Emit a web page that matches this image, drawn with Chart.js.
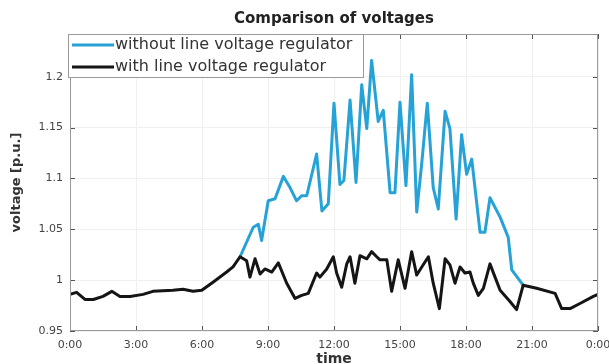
<!DOCTYPE html>
<html>
<head>
<meta charset="utf-8">
<script src="https://cdn.jsdelivr.net/npm/chart.js@4.4.1/dist/chart.umd.min.js"></script>
<style>
  html, body { margin: 0; padding: 0; background: #fff; }
  #wrap { width: 609px; height: 364px; }
</style>
</head>
<body>
<div id="wrap"><canvas id="chart" width="609" height="364"></canvas></div>
<script>
// time of day in hours, voltage in p.u.
const blackHours = [0, 0.30, 0.68, 1.06, 1.50, 1.90, 2.27, 2.73, 3.32, 3.77,
  4.68, 5.14, 5.59, 5.99, 6.50, 7.12, 7.41, 7.73, 8.03, 8.18,
  8.41, 8.64, 8.86, 9.17, 9.47, 9.85, 10.23, 10.53, 10.83, 11.21,
  11.36, 11.67, 11.97, 12.12, 12.35, 12.58, 12.73, 12.95, 13.18, 13.49,
  13.71, 13.94, 14.09, 14.40, 14.62, 14.92, 15.23, 15.53, 15.76, 15.99,
  16.29, 16.51, 16.79, 17.05, 17.27, 17.50, 17.73, 17.95, 18.18, 18.33,
  18.56, 18.79, 19.09, 19.32, 19.55, 20.00, 20.30, 20.60, 21.21, 22.05,
  22.35, 22.73, 23.18, 23.79, 24.0];
const blackVolts = [0.986, 0.988, 0.981, 0.981, 0.984, 0.989, 0.984, 0.984, 0.986, 0.989,
  0.990, 0.991, 0.989, 0.990, 0.998, 1.008, 1.013, 1.023, 1.019, 1.003,
  1.021, 1.006, 1.011, 1.008, 1.017, 0.997, 0.982, 0.985, 0.987, 1.007,
  1.003, 1.011, 1.023, 1.007, 0.993, 1.016, 1.023, 0.997, 1.024, 1.021,
  1.028, 1.023, 1.020, 1.020, 0.989, 1.020, 0.992, 1.028, 1.005, 1.013,
  1.023, 0.997, 0.972, 1.021, 1.015, 0.997, 1.013, 1.007, 1.008, 0.997,
  0.985, 0.992, 1.016, 1.003, 0.990, 0.979, 0.971, 0.995, 0.992, 0.987,
  0.972, 0.972, 0.977, 0.984, 0.986];

const blueHours = [7.73, 8.33, 8.56, 8.71, 9.01, 9.32, 9.70, 10.00, 10.30, 10.53,
  10.76, 11.21, 11.45, 11.74, 12.00, 12.27, 12.45, 12.73, 13.00, 13.26,
  13.49, 13.71, 14.01, 14.24, 14.55, 14.77, 15.00, 15.27, 15.53, 15.76,
  15.99, 16.24, 16.51, 16.74, 17.05, 17.27, 17.55, 17.80, 18.03, 18.26,
  18.64, 18.86, 19.09, 19.55, 19.92, 20.08, 20.53, 20.60];
const blueVolts = [1.023, 1.052, 1.055, 1.039, 1.078, 1.080, 1.102, 1.091, 1.078, 1.083,
  1.083, 1.124, 1.068, 1.075, 1.174, 1.094, 1.098, 1.177, 1.096, 1.192,
  1.149, 1.216, 1.156, 1.167, 1.086, 1.086, 1.175, 1.093, 1.202, 1.067,
  1.115, 1.174, 1.091, 1.070, 1.166, 1.149, 1.060, 1.143, 1.104, 1.119,
  1.047, 1.047, 1.081, 1.062, 1.042, 1.010, 0.997, 0.995];

const seriesNames = ['without line voltage regulator', 'with line voltage regulator'];
const xTickValues = [0, 3, 6, 9, 12, 15, 18, 21, 24];
const xTickLabels = ['0:00', '3:00', '6:00', '9:00', '12:00', '15:00', '18:00', '21:00', '0:00'];
const yTickValues = [0.95, 1, 1.05, 1.1, 1.15, 1.2];
const yTickLabels = ['0.95', '1', '1.05', '1.1', '1.15', '1.2'];

const BLUE = '#27a2d6';
const BLACK = '#151515';

function toPoints(xs, ys) {
  return xs.map((x, i) => ({ x: x, y: ys[i] }));
}

// matlab style: ticks pointing inward on all four sides, plus the box
const boxTicks = {
  id: 'boxTicks',
  afterDatasetsDraw(chart) {
    const { ctx, chartArea: a, scales } = chart;
    ctx.save();
    ctx.strokeStyle = '#555';
    ctx.lineWidth = 1;
    ctx.beginPath();
    xTickValues.forEach(v => {
      const px = Math.round(scales.x.getPixelForValue(v)) + 0.5;
      ctx.moveTo(px, a.bottom); ctx.lineTo(px, a.bottom - 5);
      ctx.moveTo(px, a.top); ctx.lineTo(px, a.top + 5);
    });
    yTickValues.forEach(v => {
      const py = Math.round(scales.y.getPixelForValue(v)) + 0.5;
      ctx.moveTo(a.left, py); ctx.lineTo(a.left + 5, py);
      ctx.moveTo(a.right, py); ctx.lineTo(a.right - 5, py);
    });
    ctx.stroke();
    ctx.strokeStyle = '#9a9a9a';
    ctx.strokeRect(a.left + 0.5, a.top + 0.5, a.right - a.left - 1, a.bottom - a.top - 1);
    ctx.restore();
  }
};

// legend box in the upper left corner of the axes
const innerLegend = {
  id: 'innerLegend',
  afterDraw(chart) {
    const { ctx, chartArea: a } = chart;
    const colors = [BLUE, BLACK];
    const x0 = a.left - 2, y0 = a.top, w = 295, h = 43;
    ctx.save();
    ctx.fillStyle = '#fff';
    ctx.fillRect(x0, y0, w, h);
    ctx.strokeStyle = '#9a9a9a';
    ctx.lineWidth = 1;
    ctx.strokeRect(x0 + 0.5, y0 + 0.5, w, h);
    ctx.font = '16px "DejaVu Sans"';
    ctx.textBaseline = 'middle';
    seriesNames.forEach((name, i) => {
      const cy = y0 + 11 + i * 22;
      ctx.strokeStyle = colors[i];
      ctx.lineWidth = 3;
      ctx.beginPath();
      ctx.moveTo(x0 + 4, cy); ctx.lineTo(x0 + 46, cy);
      ctx.stroke();
      ctx.fillStyle = '#333';
      ctx.fillText(name, x0 + 47, cy);
    });
    ctx.restore();
  }
};

new Chart(document.getElementById('chart'), {
  type: 'line',
  data: {
    datasets: [{
      label: seriesNames[0],
      data: toPoints(blueHours, blueVolts),
      borderColor: BLUE,
      borderWidth: 3,
      order: 1
    }, {
      label: seriesNames[1],
      data: toPoints(blackHours, blackVolts),
      borderColor: BLACK,
      borderWidth: 3,
      order: 0
    }]
  },
  options: {
    responsive: false,
    animation: false,
    parsing: false,
    layout: { padding: { right: 11, left: 0, top: 0, bottom: 0 } },
    elements: {
      point: { radius: 0 },
      line: { tension: 0, borderJoinStyle: 'round', borderCapStyle: 'round' }
    },
    plugins: {
      legend: { display: false },
      tooltip: { enabled: false },
      title: {
        display: true,
        fullSize: false,
        text: 'Comparison of voltages',
        color: '#222',
        font: { family: 'DejaVu Sans', size: 15, weight: 'bold', lineHeight: 1.2 },
        padding: { top: 10, bottom: 6 }
      }
    },
    scales: {
      x: {
        type: 'linear',
        min: 0,
        max: 24,
        afterBuildTicks(scale) { scale.ticks = xTickValues.map(v => ({ value: v })); },
        afterFit(scale) {
          scale.height = 33;
          scale.paddingLeft = 0;
          scale.paddingRight = 0;
        },
        ticks: {
          callback: (v, i) => xTickLabels[i],
          color: '#444',
          font: { family: 'DejaVu Sans', size: 11 },
          padding: 8,
          maxRotation: 0,
          autoSkip: false
        },
        grid: { color: '#f0f0f0', drawTicks: false },
        border: { display: false },
        title: {
          display: true,
          text: 'time',
          color: '#333',
          font: { family: 'DejaVu Sans', size: 14, weight: 'bold', lineHeight: 1 },
          padding: { top: 0, bottom: -2 }
        }
      },
      y: {
        min: 0.95,
        max: 1.242,
        afterBuildTicks(scale) { scale.ticks = yTickValues.map(v => ({ value: v })); },
        afterFit(scale) { scale.width = 70; },
        ticks: {
          callback: (v, i) => yTickLabels[i],
          color: '#444',
          font: { family: 'DejaVu Sans', size: 11 },
          padding: 7,
          autoSkip: false
        },
        grid: { color: '#f0f0f0', drawTicks: false },
        border: { display: false },
        title: {
          display: true,
          text: 'voltage [p.u.]',
          color: '#333',
          font: { family: 'DejaVu Sans', size: 13, weight: 'bold', lineHeight: 1 },
          padding: { top: 10, bottom: 0 }
        }
      }
    }
  },
  plugins: [boxTicks, innerLegend]
});
</script>
</body>
</html>
